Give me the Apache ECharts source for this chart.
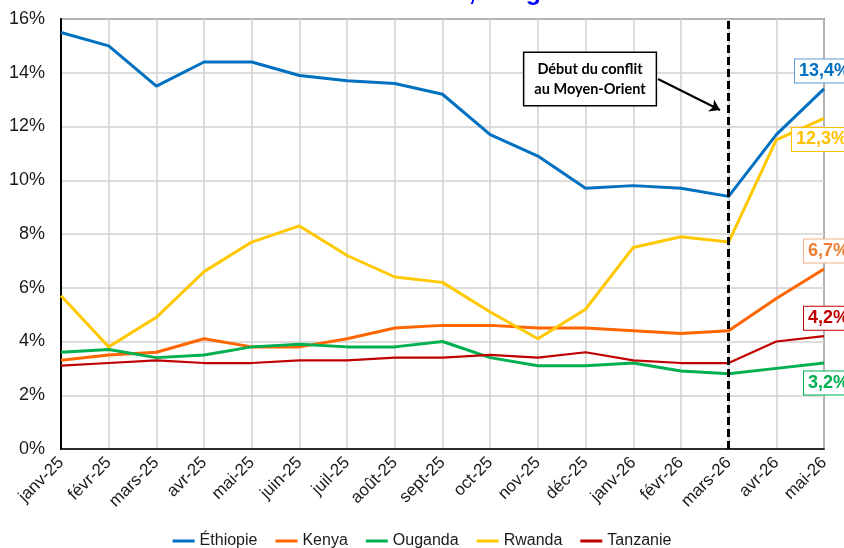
<!DOCTYPE html>
<html lang="fr">
<head>
<meta charset="UTF-8" />
<title>Inflation</title>
<script src="https://cdn.jsdelivr.net/npm/echarts@6/dist/echarts.min.js"></script>
<style>
  body { margin: 0; padding: 0; background: #fff; }
  #chart { width: 844px; height: 548px; }
</style>
</head>
<body>
<div id="chart"></div>
<script>
  let months = ['janv-25', 'févr-25', 'mars-25', 'avr-25', 'mai-25', 'juin-25', 'juil-25', 'août-25', 'sept-25',
    'oct-25', 'nov-25', 'déc-25', 'janv-26', 'févr-26', 'mars-26', 'avr-26', 'mai-26'];
  let ethiopie = [15.5, 15.0, 13.5, 14.4, 14.4, 13.9, 13.7, 13.6, 13.2, 11.7, 10.9, 9.7, 9.8, 9.7, 9.4, 11.7, 13.4];
  let kenya = [3.3, 3.5, 3.6, 4.1, 3.8, 3.8, 4.1, 4.5, 4.6, 4.6, 4.5, 4.5, 4.4, 4.3, 4.4, 5.6, 6.7];
  let ouganda = [3.6, 3.7, 3.4, 3.5, 3.8, 3.9, 3.8, 3.8, 4.0, 3.4, 3.1, 3.1, 3.2, 2.9, 2.8, 3.0, 3.2];
  let rwanda = [5.7, 3.8, 4.9, 6.6, 7.7, 8.3, 7.2, 6.4, 6.2, 5.1, 4.1, 5.2, 7.5, 7.9, 7.7, 11.5, 12.3];
  let tanzanie = [3.1, 3.2, 3.3, 3.2, 3.2, 3.3, 3.3, 3.4, 3.4, 3.5, 3.4, 3.6, 3.3, 3.2, 3.2, 4.0, 4.2];
  let conflictMonth = 'mars-26';

  function pct(v) {
    return v.toFixed(1).replace('.', ',') + '%';
  }

  // line + boxed value at the last point
  function makeSeries(name, data, color, width, labelColor, boxColor, offset) {
    return {
      name: name,
      type: 'line',
      data: data,
      showSymbol: false,
      symbol: 'none',
      lineStyle: { color: color, width: width },
      itemStyle: { color: color },
      endLabel: {
        show: true,
        formatter: (p) => pct(p.value),
        distance: 0,
        align: 'left',
        verticalAlign: 'middle',
        offset: offset,
        fontFamily: 'Liberation Sans',
        fontSize: 18,
        fontWeight: 'bold',
        color: labelColor,
        backgroundColor: '#fff',
        borderColor: boxColor,
        borderWidth: 1,
        padding: [3, 4, 2, 4]
      }
    };
  }

  let chart = echarts.init(document.getElementById('chart'));

  let series = [
    makeSeries('Éthiopie', ethiopie, '#0070C0', 3, '#0070C0', '#5B9BD5', [-29, -18]),
    makeSeries('Kenya', kenya, '#FF6600', 3, '#ED7D31', '#F4B183', [-20, -18]),
    makeSeries('Ouganda', ouganda, '#00B050', 3, '#00B050', '#00B050', [-20, 20]),
    makeSeries('Rwanda', rwanda, '#FFC800', 3, '#FFC000', '#FFC000', [-32, 21]),
    makeSeries('Tanzanie', tanzanie, '#C00000', 2.25, '#C00000', '#C00000', [-20, -18])
  ];

  series[0].markLine = {
    silent: true,
    animation: false,
    symbol: 'none',
    label: { show: false },
    data: [
      { xAxis: conflictMonth, lineStyle: { color: '#000', width: 3, type: [8, 4] } },
      [
        { x: 658, y: 79, symbol: 'none' },
        { x: 720, y: 110, symbol: 'arrow', symbolSize: 10, lineStyle: { color: '#000', width: 2, type: 'solid' } }
      ]
    ]
  };

  let option = {
    animation: false,
    grid: { left: 61, right: 20, top: 19, bottom: 99, show: true, borderColor: '#222', borderWidth: 1.5, outerBoundsMode: 'none' },
    legend: {
      left: 'center',
      top: 528,
      icon: 'rect',
      itemWidth: 22,
      itemHeight: 3,
      itemGap: 18,
      textStyle: { fontFamily: 'Liberation Sans', fontSize: 16, color: '#1a1a1a' }
    },
    xAxis: {
      type: 'category',
      data: months,
      boundaryGap: false,
      axisLine: { lineStyle: { color: '#000', width: 1.5 } },
      axisTick: { show: false },
      splitLine: { show: true, lineStyle: { color: '#d0d0d0', width: 1.5 } },
      axisLabel: { rotate: 45, margin: 11, fontFamily: 'Liberation Sans', fontSize: 17, color: '#1a1a1a', interval: 0 }
    },
    yAxis: {
      type: 'value',
      min: 0,
      max: 16,
      interval: 2,
      axisLine: { show: true, lineStyle: { color: '#000', width: 2 } },
      splitLine: { lineStyle: { color: '#d0d0d0', width: 1.5 } },
      axisLabel: { formatter: '{value}%', margin: 16, fontFamily: 'Liberation Sans', fontSize: 18, color: '#1a1a1a' }
    },
    graphic: [
      {
        type: 'text',
        x: 298,
        y: -7,
        style: {
          text: 'Inflation totale,  en glissement annuel',
          font: 'bold 25px "Liberation Sans"',
          fill: '#0000FF',
          verticalAlign: 'middle'
        }
      },
      {
        type: 'text',
        x: 590,
        y: 79,
        z: 100,
        style: {
          text: 'Début du conflit\nau Moyen-Orient',
          font: 'bold 14.5px Lato',
          fill: '#000',
          align: 'center',
          verticalAlign: 'middle',
          lineHeight: 20,
          backgroundColor: '#fff',
          borderColor: '#000',
          borderWidth: 1.5,
          padding: [6, 10, 6, 10]
        }
      }
    ],
    series: series
  };
  chart.setOption(option);
</script>
</body>
</html>
